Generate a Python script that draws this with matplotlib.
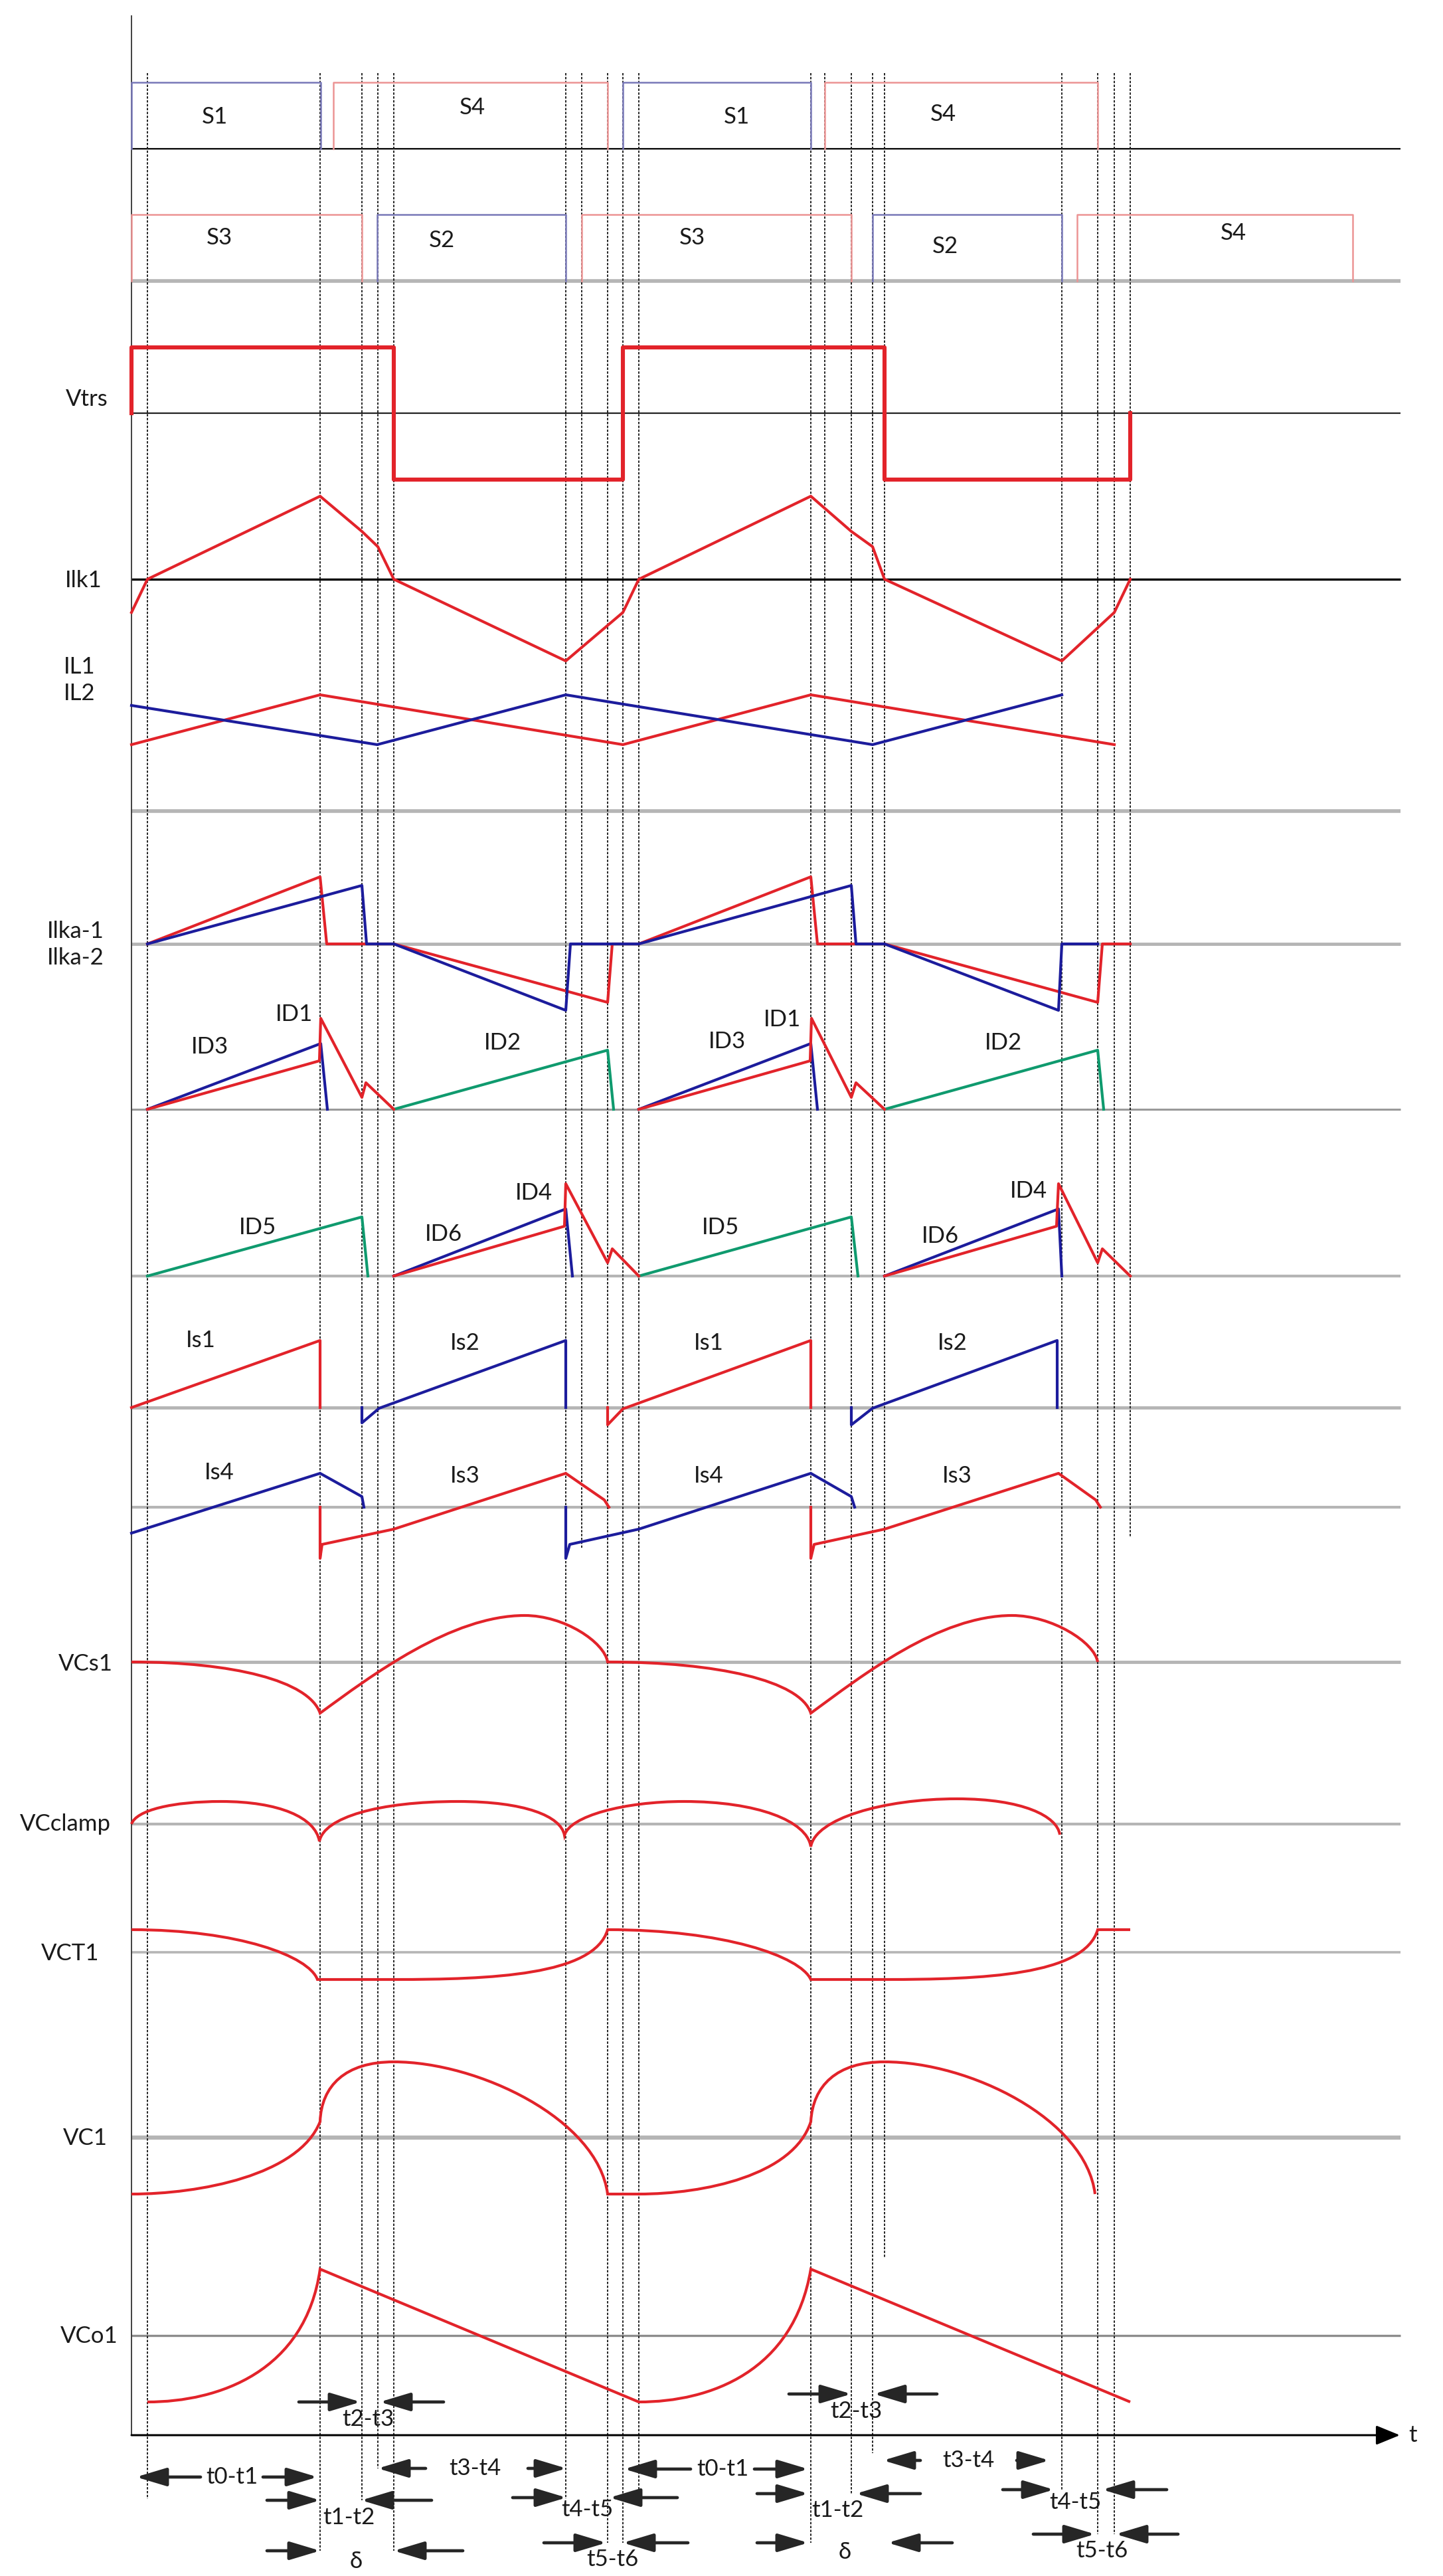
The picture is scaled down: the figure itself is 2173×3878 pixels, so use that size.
import numpy as np
import matplotlib
matplotlib.use('Agg')
import matplotlib.pyplot as plt
from matplotlib.path import Path
from matplotlib.patches import PathPatch

plt.rcParams['font.family'] = ['Lato', 'DejaVu Sans']
nan = np.nan

# ---------------- DATA (time axis in drawing units, levels relative to each trace baseline, up = +) ----
event_times = [222, 482, 545, 569, 593, 852, 876, 915, 938, 962,
               1221, 1242, 1282, 1314, 1332, 1599, 1653, 1678, 1702]

# gate signals: [label, on, off, colour-key]
gate_row1 = [['S1', 198, 483, 'b'], ['S4', 502, 915, 'r'],
             ['S1', 938, 1221, 'b'], ['S4', 1242, 1653, 'r']]
gate_row2 = [['S3', 198, 545, 'r'], ['S2', 568, 852, 'b'], ['S3', 876, 1282, 'r'],
             ['S2', 1314, 1599, 'b'], ['S4', 1622, 2037, 'r']]

vtrs_t = [198, 198, 593, 593, 938, 938, 1332, 1332, 1702, 1702]
vtrs_v = [0, 99, 99, -100, -100, 99, 99, -100, -100, 0]

ilk1_t = [198, 222, 482, 545, 569, 593, 852, 938, 962, 1221, 1282, 1314, 1332, 1599, 1678, 1702]
ilk1_v = [-50, 0, 125, 72, 49, 0, -123, -50, 0, 125, 72, 49, 0, -123, -50, 0]

il1_t = [198, 482, 938, 1221, 1678]
il1_v = [0, 75, 0, 75, 0]
il2_t = [198, 568, 852, 1314, 1599]
il2_v = [59, 0, 75, 0, 75]

ilka1_t = [222, 482, 492, 593, 915, 922, 962, 1221, 1231, 1332, 1653, 1660, 1702]
ilka1_v = [0, 101, 0, 0, -88, 0, 0, 101, 0, 0, -88, 0, 0]
ilka2_t = [222, 545, 552, 593, 852, 859, 962, 1282, 1289, 1332, 1594, 1599, 1653]
ilka2_v = [0, 88, 0, 0, -100, 0, 0, 88, 0, 0, -100, 0, 0]

id3_t = [222, 483, 493, nan, 962, 1221, 1231]
id3_v = [0, 99, 0, nan, 0, 99, 0]
id1_t = [222, 481, 483, 545, 551, 593, nan, 962, 1220, 1222, 1282, 1289, 1332]
id1_v = [0, 73, 137, 18, 40, 0, nan, 0, 73, 137, 18, 40, 0]
id2_t = [593, 915, 924, nan, 1332, 1653, 1662]
id2_v = [0, 89, 0, nan, 0, 89, 0]

id5_t = [222, 545, 554, nan, 962, 1282, 1292]
id5_v = [0, 89, 0, nan, 0, 89, 0]
id6_t = [593, 852, 862, nan, 1332, 1594, 1599]
id6_v = [0, 101, 0, nan, 0, 101, 0]
id4_t = [593, 850, 852, 915, 922, 962, nan, 1332, 1591, 1594, 1653, 1660, 1702]
id4_v = [0, 75, 139, 20, 41, 0, nan, 0, 75, 139, 20, 41, 0]

is1_t = [198, 482, 482, nan, 915, 915, 938, 1221, 1221]
is1_v = [0, 101, 0, nan, 0, -26, -2, 101, 0]
is2_t = [545, 545, 571, 852, 852, nan, 1282, 1282, 1314, 1592, 1592]
is2_v = [0, -23, -1, 101, 0, nan, 0, -26, -1, 101, 0]

is4_t = [198, 482, 545, 548, nan, 852, 852, 858, 962, 1221, 1282, 1287]
is4_v = [-39, 51, 16, 0, nan, 0, -77, -56, -33, 51, 16, 0]
is3_t = [482, 482, 485, 593, 852, 910, 917, nan, 1221, 1221, 1226, 1332, 1594, 1650, 1657]
is3_v = [0, -77, -56, -33, 51, 11, 0, nan, 0, -77, -56, -33, 51, 11, 0]

# smooth traces: M = move, L = line, C = cubic (two control points + end point)
vcs1_code = 'MCCCCCC'
vcs1_t = [198, 350, 465, 482, 560, 680, 790, 850, 910, 915,
          1080, 1205, 1221, 1299, 1414, 1524, 1584, 1648, 1653]
vcs1_v = [0, 0, -28, -77, -20, 70, 70, 70, 30, 0,
          0, -28, -77, -20, 70, 70, 70, 30, 0]

vcclamp_code = 'MCCCCCCCC'
vcclamp_t = [198, 205, 260, 333, 420, 475, 481, 488, 570, 690, 790, 845, 850,
             858, 940, 1030, 1140, 1215, 1221, 1228, 1330, 1441, 1540, 1592, 1596]
vcclamp_v = [0, 21, 34, 34, 34, 10, -26, 10, 34, 34, 34, 12, -17,
             12, 34, 34, 34, 5, -34, 8, 38, 38, 38, 12, -16]

vct1_code = 'MCLCCLCL'
vct1_t = [198, 360, 465, 478, 593, 740, 895, 915, 1090, 1205, 1221, 1332, 1480, 1633, 1653, 1702]
vct1_v = [34, 34, -6, -41, -41, -41, -35, 34, 34, -6, -41, -41, -41, -35, 34, 34]

vc1_code = 'MCCCLCCC'
vc1_t = [198, 300, 450, 482, 484, 520, 593, 720, 900, 915, 962,
         1060, 1195, 1221, 1224, 1260, 1332, 1460, 1635, 1649]
vc1_v = [-85, -85, -57, 24, 78, 114, 114, 114, 28, -85, -85,
         -85, -57, 24, 78, 114, 114, 114, 28, -85]

vco1_code = 'MCLCL'
vco1_t = [222, 330, 460, 482, 962, 1070, 1195, 1221, 1702]
vco1_v = [-100, -100, -54, 100, -100, -100, -54, 100, -100]

# interval annotations
interval_labels = ['t2-t3', 't2-t3', 't0-t1', 't3-t4', 't0-t1', 't3-t4', 't1-t2',
                   't4-t5', 't1-t2', 't4-t5', 'δ', 't5-t6', 'δ', 't5-t6']

# ---------------- LAYOUT ----------------
W, H = 2173, 3878
fig = plt.figure(figsize=(W / 100, H / 100), dpi=100)
ax = fig.add_axes([0, 0, 1, 1])
ax.set_xlim(0, W)
ax.set_ylim(H, 0)
ax.axis('off')

RED = '#e2232a'
BLUE = '#1c1c9c'
GREEN = '#0f9a6e'
LRED = '#ec9494'
LBLUE = '#7878b8'
GRAY = '#b5b5b5'
TXT = '#1a1a1a'
FS = 25

X0, X1 = 198, 2109
# baselines
base = dict(g1=224, g2=423, vtrs=622, ilk1=872, il=1121, sep=1221, ilka=1421,
            id1=1670, id2=1921, is1=2119, is2=2269, vcs1=2502, vcclamp=2746,
            vct1=2939, vc1=3218, vco1=3516, taxis=3666)

hlines = [('g1', 'k', 1.6), ('g2', GRAY, 4), ('vtrs', '#222', 1.6), ('ilk1', 'k', 2.4),
          ('sep', GRAY, 4), ('ilka', GRAY, 3.5), ('id1', '#9a9a9a', 2.2), ('id2', GRAY, 3),
          ('is1', GRAY, 3.5), ('is2', GRAY, 3), ('vcs1', GRAY, 3.5), ('vcclamp', GRAY, 3),
          ('vct1', GRAY, 2.6), ('vc1', GRAY, 4.5), ('vco1', '#8c8c8c', 2.4)]
for key, col, lw in hlines:
    ax.plot([X0, X1], [base[key], base[key]], color=col, lw=lw, zorder=1, solid_capstyle='butt')

# vertical axis and time axis
ax.plot([X0, X0], [24, base['taxis']], color='#333', lw=1.3, zorder=2)
ax.annotate('', xy=(2108, base['taxis']), xytext=(X0, base['taxis']),
            arrowprops=dict(arrowstyle='-|>,head_length=1.1,head_width=0.45', lw=2.2,
                            color='k', shrinkA=0, shrinkB=0, mutation_scale=20), zorder=2)
ax.text(2127, base['taxis'], 't', fontsize=FS, color=TXT, ha='center', va='center')

# dashed event lines
dash_bottom = [3762, 3840, 3764, 3716, 3840, 3762, 2330, 3828, 3828, 3760,
               3828, 2330, 3754, 3693, 3400, 3748, 3815, 3815, 2314]
for x, yb in zip(event_times, dash_bottom):
    ax.plot([x, x], [110, yb], color='#222222', lw=1.4, ls=(0, (1.8, 1.2)), zorder=1)

# gate boxes
cmap = {'r': LRED, 'b': LBLUE}
gate_lab_y1 = [176, 162, 176, 172]
gate_lab_y2 = [358, 362, 358, 371, 351]
gate_lab_x1 = [323, 711, 1109, 1420]
gate_lab_x2 = [330, 665, 1042, 1423, 1857]
for (lab, on, off, c), lx, ly in zip(gate_row1, gate_lab_x1, gate_lab_y1):
    b = base['g1']
    ax.plot([on, on, off, off], [b, b - 100, b - 100, b], color=cmap[c], lw=1.8, zorder=2)
    ax.text(lx, ly, lab, fontsize=FS, color=TXT, ha='center', va='center')
for (lab, on, off, c), lx, ly in zip(gate_row2, gate_lab_x2, gate_lab_y2):
    b = base['g2']
    ax.plot([on, on, off, off], [b, b - 100, b - 100, b], color=cmap[c], lw=1.8, zorder=2)
    ax.text(lx, ly, lab, fontsize=FS, color=TXT, ha='center', va='center')


def trace(t, v, key, color, lw=3.0):
    t = np.asarray(t, float)
    v = np.asarray(v, float)
    ax.plot(t, base[key] - v, color=color, lw=lw, zorder=3)


def smooth(code, t, v, key, color, lw=3.0):
    verts, codes = [], []
    i = 0
    for c in code:
        if c == 'M':
            verts.append((t[i], base[key] - v[i])); codes.append(Path.MOVETO); i += 1
        elif c == 'L':
            verts.append((t[i], base[key] - v[i])); codes.append(Path.LINETO); i += 1
        else:
            for k in range(3):
                verts.append((t[i + k], base[key] - v[i + k])); codes.append(Path.CURVE4)
            i += 3
    ax.add_patch(PathPatch(Path(verts, codes), fill=False, edgecolor=color, lw=lw, zorder=3))


trace(vtrs_t, vtrs_v, 'vtrs', RED, lw=4.4)
trace(ilk1_t, ilk1_v, 'ilk1', RED)
trace(il1_t, il1_v, 'il', RED)
trace(il2_t, il2_v, 'il', BLUE)
trace(ilka1_t, ilka1_v, 'ilka', RED)
trace(ilka2_t, ilka2_v, 'ilka', BLUE)
trace(id2_t, id2_v, 'id1', GREEN)
trace(id3_t, id3_v, 'id1', BLUE)
trace(id1_t, id1_v, 'id1', RED)
trace(id5_t, id5_v, 'id2', GREEN)
trace(id6_t, id6_v, 'id2', BLUE)
trace(id4_t, id4_v, 'id2', RED)
trace(is1_t, is1_v, 'is1', RED)
trace(is2_t, is2_v, 'is1', BLUE)
trace(is4_t, is4_v, 'is2', BLUE)
trace(is3_t, is3_v, 'is2', RED)
smooth(vcs1_code, vcs1_t, vcs1_v, 'vcs1', RED)
smooth(vcclamp_code, vcclamp_t, vcclamp_v, 'vcclamp', RED)
smooth(vct1_code, vct1_t, vct1_v, 'vct1', RED)
smooth(vc1_code, vc1_t, vc1_v, 'vc1', RED)
smooth(vco1_code, vco1_t, vco1_v, 'vco1', RED)

# left-hand trace names
side_labels = ['Vtrs', 'Ilk1', 'IL1', 'IL2', 'Ilka-1', 'Ilka-2', 'VCs1', 'VCclamp', 'VCT1', 'VC1', 'VCo1']
side_x = [131, 126, 120, 120, 114, 114, 129, 98, 106, 128, 134]
side_y = [601, 874, 1004, 1044, 1402, 1442, 2505, 2746, 2941, 3219, 3517]
for s, x, y in zip(side_labels, side_x, side_y):
    ax.text(x, y, s, fontsize=FS, color=TXT, ha='center', va='center')

# in-plot trace names
inner_labels = ['ID1', 'ID3', 'ID2', 'ID3', 'ID1', 'ID2', 'ID5', 'ID6', 'ID4', 'ID5', 'ID6', 'ID4',
                'Is1', 'Is2', 'Is1', 'Is2', 'Is4', 'Is3', 'Is4', 'Is3']
inner_x = [443, 316, 757, 1095, 1178, 1511, 388, 668, 804, 1085, 1416, 1549,
           302, 700, 1067, 1434, 330, 700, 1067, 1441]
inner_y = [1527, 1576, 1570, 1568, 1535, 1570, 1848, 1858, 1796, 1848, 1861, 1793,
           2018, 2022, 2022, 2022, 2217, 2222, 2222, 2222]
for s, x, y in zip(inner_labels, inner_x, inner_y):
    ax.text(x, y, s, fontsize=FS, color=TXT, ha='center', va='center')

# interval annotations: label position and the two arrows (tail, tip) on a row
lab_xy = [(554, 3642), (1289, 3630), (349, 3729), (715, 3716), (1088, 3717), (1458, 3704),
          (525, 3790), (884, 3778), (1261, 3779), (1619, 3767), (536, 3856), (922, 3853),
          (1272, 3842), (1659, 3840)]
arrows = [(3616, 450, 543, 668, 572), (3604, 1188, 1282, 1411, 1316),
          (3729, 302, 205, 396, 478), (3716, 641, 569, 795, 853),
          (3717, 1040, 940, 1136, 1217), (3704, 1386, 1330, 1531, 1580),
          (3764, 402, 482, 650, 544), (3760, 772, 853, 1020, 918),
          (3754, 1140, 1217, 1386, 1289), (3748, 1510, 1587, 1757, 1660),
          (3840, 402, 482, 697, 593), (3828, 819, 913, 1036, 938),
          (3828, 1140, 1217, 1434, 1337), (3815, 1556, 1649, 1774, 1680)]
ap = dict(arrowstyle='-|>,head_length=1.4,head_width=0.42', lw=3.4, color='#262626',
          shrinkA=0, shrinkB=0, mutation_scale=20)
for s, (lx, ly), (y, ta, pa, tb, pb) in zip(interval_labels, lab_xy, arrows):
    ax.annotate('', xy=(pa, y), xytext=(ta, y), arrowprops=ap, zorder=4)
    ax.annotate('', xy=(pb, y), xytext=(tb, y), arrowprops=ap, zorder=4)
    ax.text(lx, ly, s, fontsize=FS, color=TXT, ha='center', va='center')

fig.savefig('out.png', dpi=100, facecolor='white')
